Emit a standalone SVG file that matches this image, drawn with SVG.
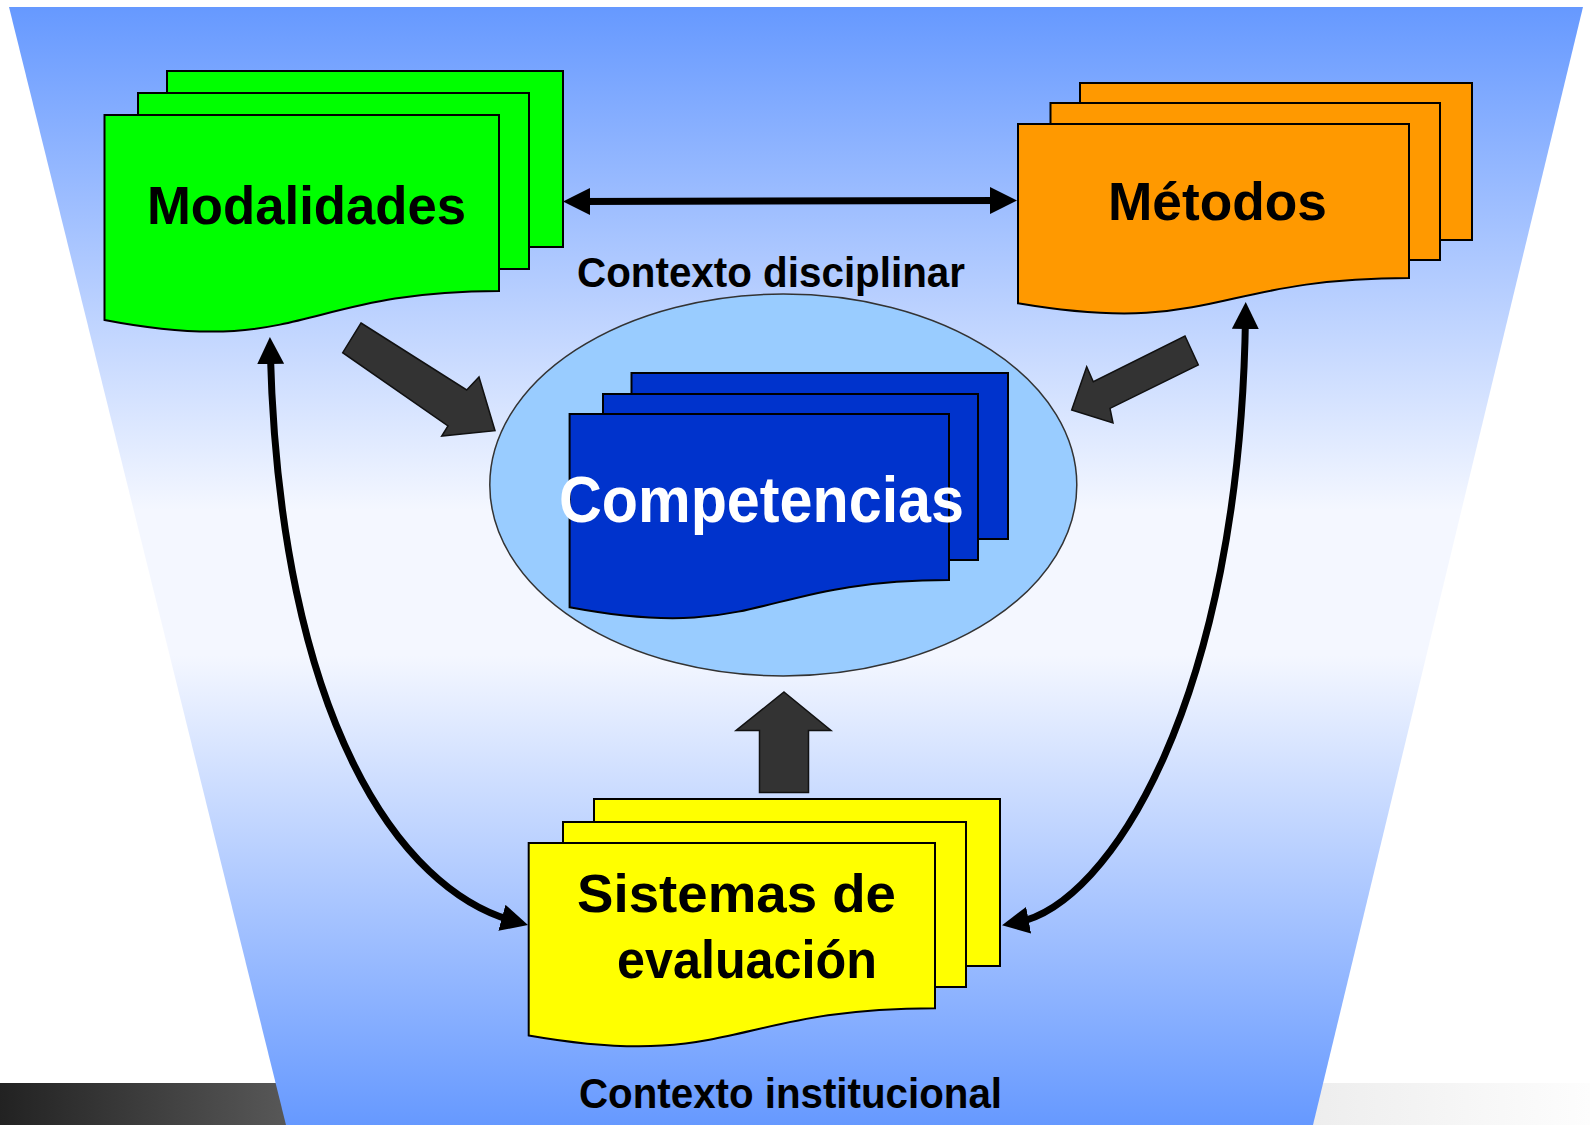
<svg xmlns="http://www.w3.org/2000/svg" width="1590" height="1125" viewBox="0 0 1590 1125">
  <defs>
    <linearGradient id="bg" x1="0" y1="7" x2="0" y2="1125" gradientUnits="userSpaceOnUse">
      <stop offset="0" stop-color="#6699ff"/>
      <stop offset="0.45" stop-color="#f4f7ff"/>
      <stop offset="0.58" stop-color="#f4f7ff"/>
      <stop offset="1" stop-color="#6699ff"/>
    </linearGradient>
    <linearGradient id="darkband" x1="0" y1="0" x2="1" y2="0">
      <stop offset="0" stop-color="#222222"/>
      <stop offset="1" stop-color="#5a5a5a"/>
    </linearGradient>
    <linearGradient id="lightband" x1="0" y1="0" x2="1" y2="0">
      <stop offset="0" stop-color="#ececec"/>
      <stop offset="1" stop-color="#fdfdfd"/>
    </linearGradient>
    <marker id="head" viewBox="0 0 27 27" markerUnits="userSpaceOnUse" markerWidth="27" markerHeight="27" refX="12" refY="13.5" orient="auto-start-reverse">
      <path d="M0,0 L27,13.5 L0,27 Z" fill="#000"/>
    </marker>
  </defs>
  <style>
    .card { stroke: #000; stroke-width: 2; stroke-linejoin: miter; }
    .green { fill: #00ff00; }
    .orange { fill: #ff9900; }
    .blue { fill: #0033cc; }
    .yellow { fill: #ffff00; }
    .big { font-family: 'Liberation Sans', Arial, sans-serif; font-weight: bold; font-size: 54px; fill: #000; }
    .ctx { font-family: 'Liberation Sans', Arial, sans-serif; font-weight: bold; font-size: 42px; fill: #000; }
    .thin { fill: none; stroke: #000; stroke-width: 7; marker-start: url(#head); marker-end: url(#head); }
    .block { fill: #333333; stroke: #111; stroke-width: 1.5; stroke-linejoin: miter; }
  </style>

  <rect x="0" y="0" width="1590" height="1125" fill="#ffffff"/>
  <rect x="0" y="1083" width="300" height="42" fill="url(#darkband)"/>
  <rect x="1290" y="1083" width="300" height="42" fill="url(#lightband)"/>
  <polygon points="9,7 1583,7 1313,1125 286,1125" fill="url(#bg)"/>

  <text class="ctx" x="577" y="287" textLength="388" lengthAdjust="spacingAndGlyphs">Contexto disciplinar</text>
  <text class="ctx" x="579" y="1108" textLength="423" lengthAdjust="spacingAndGlyphs">Contexto institucional</text>

  <g id="competencias">
    <ellipse cx="783.3" cy="485" rx="293.5" ry="191" fill="#99ccff" stroke="#333" stroke-width="1.5"/>
    <rect class="card blue" x="631.5" y="373" width="376.5" height="166"/>
    <rect class="card blue" x="603" y="394" width="375" height="166"/>
    <path class="card blue" d="M569.6,414 H949 V580 C759.3,580 759.3,643 569.6,607.3 Z"/>
    <text class="big" x="559" y="522" style="fill:#ffffff;font-size:64px" textLength="405" lengthAdjust="spacingAndGlyphs">Competencias</text>
  </g>

  <g id="modalidades">
    <rect class="card green" x="167" y="71" width="396" height="176"/>
    <rect class="card green" x="138" y="93" width="391" height="176"/>
    <path class="card green" d="M104.5,115 H499 V291 C301.75,291 301.75,358 104.5,320 Z"/>
    <text class="big" x="147" y="224" textLength="319" lengthAdjust="spacingAndGlyphs">Modalidades</text>
  </g>

  <g id="metodos">
    <rect class="card orange" x="1080" y="83" width="392" height="157"/>
    <rect class="card orange" x="1050.5" y="103" width="389.5" height="157"/>
    <path class="card orange" d="M1018,124 H1409 V278 C1213.5,278 1213.5,336.5 1018,303.3 Z"/>
    <text class="big" x="1108" y="220" textLength="219" lengthAdjust="spacingAndGlyphs">Métodos</text>
  </g>

  <g id="sistemas">
    <rect class="card yellow" x="594" y="799" width="406" height="167"/>
    <rect class="card yellow" x="563" y="822" width="403" height="165"/>
    <path class="card yellow" d="M528.7,843 H935 V1008.2 C731.85,1008.2 731.85,1071 528.7,1035.4 Z"/>
    <text class="big" x="577" y="912" textLength="319" lengthAdjust="spacingAndGlyphs">Sistemas de</text>
    <text class="big" x="617" y="978" textLength="260" lengthAdjust="spacingAndGlyphs">evaluación</text>
  </g>

  <g id="connectors">
    <path class="thin" d="M578,201.5 L1002,200.5"/>
    <path class="thin" d="M270.3,352 C280,720 400,890 513.5,921"/>
    <path class="thin" d="M1245.5,317 C1240,700 1110,905 1016.8,922.4"/>
    <polygon class="block" points="361,323 466.7,390 479,377 495,430.7 441.7,436 448,426 342.7,352.7"/>
    <polygon class="block" points="1185,336 1198.3,365 1110,408.3 1113,423 1071.7,410 1086.7,366.7 1093.3,381.7"/>
    <polygon class="block" points="784,692 831,730.5 808.5,730.5 808.5,792.5 759.5,792.5 759.5,730.5 736,730.5"/>
  </g>
</svg>
